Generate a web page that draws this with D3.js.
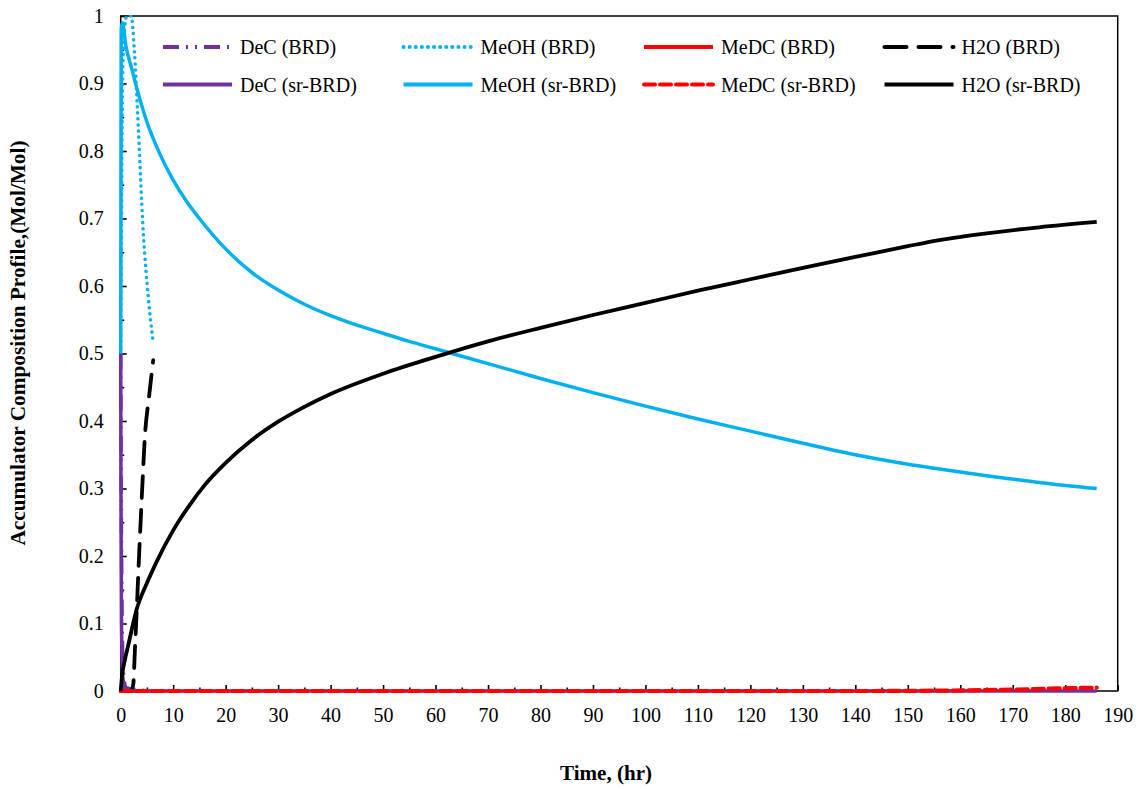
<!DOCTYPE html>
<html>
<head>
<meta charset="utf-8">
<script src="https://cdn.jsdelivr.net/npm/d3@7"></script>
<style>
  body { margin: 0; background: #fff; }
  svg { display: block; }
  text { font-family: "Liberation Serif", "Times New Roman", serif; fill: #000; }
</style>
</head>
<body>
<svg></svg>
<script>
// series data: time (hr) and mole fraction
let decBrdT = [0, 0.1, 0.25, 0.5, 1, 6.2]
let decBrdV = [0.5, 0.3, 0.12, 0.03, 0.005, 0]

let meohBrdT = [0, 0.3, 0.6, 1.2, 2.0, 2.6, 3.2, 4.3, 5.3, 6.2]
let meohBrdV = [0.5, 0.86, 0.97, 1.0, 1.0, 0.95, 0.86, 0.68, 0.58, 0.516]

let medcBrdT = [0, 6.2]
let medcBrdV = [0, 0]

let h2oBrdT = [0, 2.0, 2.4, 2.7, 3.0, 3.5, 4.1, 4.6, 5.4, 6.2]
let h2oBrdV = [0, 0, 0.01, 0.06, 0.11, 0.2, 0.3, 0.376, 0.436, 0.49]

let decSrT = [0, 0.05, 0.15, 0.4, 1, 186]
let decSrV = [0.5, 0.3, 0.1, 0.02, 0, 0]

let meohSrT = [0, 0.1, 0.3, 1, 2, 3, 5, 7.5, 10, 12.5, 15, 20, 25, 30, 35, 40, 45, 50, 55, 60, 70, 80, 90, 100, 110, 120, 130, 140, 150, 156, 165, 175, 186]
let meohSrV = [0.5, 0.98, 0.99, 0.955, 0.925, 0.895, 0.843, 0.795, 0.757, 0.726, 0.7, 0.655, 0.62, 0.594, 0.573, 0.556, 0.542, 0.53, 0.518, 0.507, 0.485, 0.463, 0.442, 0.422, 0.403, 0.385, 0.367, 0.35, 0.336, 0.329, 0.319, 0.309, 0.3]

let medcSrT = [0, 20, 60, 100, 140, 156, 170, 180, 186]
let medcSrV = [0, 0, 0, 0, 0, 0.0005, 0.002, 0.004, 0.005]

let h2oSrT = [0, 0.3, 0.8, 1.5, 3, 5, 7, 10, 13, 16, 20, 25, 30, 35, 40, 50, 60, 70, 80, 90, 100, 110, 120, 130, 140, 150, 156, 165, 175, 186]
let h2oSrV = [0, 0.025, 0.046, 0.07, 0.12, 0.16, 0.194, 0.238, 0.274, 0.305, 0.338, 0.372, 0.399, 0.421, 0.44, 0.47, 0.495, 0.518, 0.538, 0.557, 0.575, 0.593, 0.61, 0.627, 0.643, 0.659, 0.668, 0.678, 0.687, 0.695]

let seriesNames = ['DeC (BRD)', 'MeOH (BRD)', 'MeDC (BRD)', 'H2O (BRD)',
                   'DeC (sr-BRD)', 'MeOH (sr-BRD)', 'MeDC (sr-BRD)', 'H2O (sr-BRD)']

let xTicks = d3.range(0, 191, 10)
let yTicks = d3.range(0, 11).map(d => d / 10)

let width = 1141
let height = 789
let plotLeft = 120.7
let plotRight = 1117.7
let plotTop = 16
let plotBottom = 691

let purple = '#7030A0'
let cyan = '#00B0F0'
let red = '#FF0000'

let series = [
    { name: seriesNames[0], t: decBrdT, v: decBrdV, color: purple, dash: '16,7,2,7,2,7', width: 3.5, cap: 'butt' },
    { name: seriesNames[1], t: meohBrdT, v: meohBrdV, color: cyan, dash: '0.1,6', width: 3.5, cap: 'round' },
    { name: seriesNames[2], t: medcBrdT, v: medcBrdV, color: red, dash: null, width: 3.5, cap: 'butt' },
    { name: seriesNames[3], t: h2oBrdT, v: h2oBrdV, color: '#000', dash: '22,12', width: 3.8, cap: 'round' },
    { name: seriesNames[4], t: decSrT, v: decSrV, color: purple, dash: null, width: 3.5, cap: 'butt' },
    { name: seriesNames[5], t: meohSrT, v: meohSrV, color: cyan, dash: null, width: 3.5, cap: 'butt' },
    { name: seriesNames[6], t: medcSrT, v: medcSrV, color: red, dash: '11,5', width: 4.2, cap: 'round' },
    { name: seriesNames[7], t: h2oSrT, v: h2oSrV, color: '#000', dash: null, width: 3.8, cap: 'butt' }
]

let svg = d3.select('svg').attr('width', width).attr('height', height)

let xScale = d3.scaleLinear().domain([0, 190]).range([plotLeft, plotRight])
let yScale = d3.scaleLinear().domain([0, 1]).range([plotBottom, plotTop])

// minor ticks
svg.append('g')
    .attr('transform', 'translate(0,' + plotBottom + ')')
    .call(d3.axisBottom(xScale).tickValues(d3.range(5, 190, 10)).tickSize(-3.5).tickFormat(''))
    .call(g => g.select('.domain').remove())

svg.append('g')
    .attr('transform', 'translate(' + plotLeft + ',0)')
    .call(d3.axisLeft(yScale).tickValues(d3.range(0, 10).map(d => d / 10 + 0.05)).tickSize(-3.5).tickFormat(''))
    .call(g => g.select('.domain').remove())

// major ticks with labels
let xAxis = svg.append('g')
    .attr('transform', 'translate(0,' + plotBottom + ')')
    .call(d3.axisBottom(xScale).tickValues(xTicks).tickSize(-6).tickPadding(17).tickFormat(d3.format('d')))

let yAxis = svg.append('g')
    .attr('transform', 'translate(' + plotLeft + ',0)')
    .call(d3.axisLeft(yScale).tickValues(yTicks).tickSize(-6).tickPadding(17).tickFormat(d => d === 0 || d === 1 ? String(d) : d.toFixed(1)))

svg.selectAll('g').attr('font-family', null)
svg.selectAll('.tick line').attr('stroke', '#000').attr('stroke-width', 1.6)
svg.selectAll('.tick text').attr('font-size', 20).attr('fill', '#000')
xAxis.select('.domain').remove()
yAxis.select('.domain').remove()

// plot frame
svg.append('rect')
    .attr('x', plotLeft).attr('y', plotTop)
    .attr('width', plotRight - plotLeft).attr('height', plotBottom - plotTop)
    .attr('fill', 'none').attr('stroke', '#000').attr('stroke-width', 1.5)

svg.append('clipPath').attr('id', 'plotclip')
    .append('rect')
    .attr('x', plotLeft - 2).attr('y', plotTop - 1)
    .attr('width', plotRight - plotLeft + 4).attr('height', plotBottom - plotTop + 4)

let line = d3.line()
    .curve(d3.curveMonotoneX)
    .x(d => xScale(d[0]))
    .y(d => yScale(d[1]))

let plot = svg.append('g').attr('clip-path', 'url(#plotclip)')

series.forEach(s => {
    plot.append('path')
        .datum(s.t.map((t, i) => [t, s.v[i]]))
        .attr('d', line)
        .attr('fill', 'none')
        .attr('stroke', s.color)
        .attr('stroke-width', s.width)
        .attr('stroke-linecap', s.cap)
        .attr('stroke-linejoin', 'round')
        .attr('stroke-dasharray', s.dash)
})

// legend, 4 columns x 2 rows
let legend = svg.append('g')
series.forEach((s, i) => {
    let col = i % 4
    let row = Math.floor(i / 4)
    let lx = 163 + col * 240.5
    let ly = 47 + row * 37.5
    legend.append('line')
        .attr('x1', lx).attr('x2', lx + 69)
        .attr('y1', ly).attr('y2', ly)
        .attr('stroke', s.color)
        .attr('stroke-width', 4)
        .attr('stroke-linecap', s.cap)
        .attr('stroke-dasharray', s.dash)
    legend.append('text')
        .attr('x', lx + 77).attr('y', ly)
        .attr('dy', '0.35em')
        .attr('font-size', 20)
        .text(s.name)
})

// axis titles
svg.append('text')
    .attr('x', 606).attr('y', 780)
    .attr('text-anchor', 'middle')
    .attr('font-size', 21)
    .attr('font-weight', 'bold')
    .attr('textLength', 92)
    .attr('lengthAdjust', 'spacingAndGlyphs')
    .text('Time, (hr)')

svg.append('text')
    .attr('transform', 'translate(25,343) rotate(-90)')
    .attr('text-anchor', 'middle')
    .attr('font-size', 22)
    .attr('font-weight', 'bold')
    .attr('textLength', 405)
    .attr('lengthAdjust', 'spacingAndGlyphs')
    .text('Accumulator Composition Profile,(Mol/Mol)')
</script>
</body>
</html>
